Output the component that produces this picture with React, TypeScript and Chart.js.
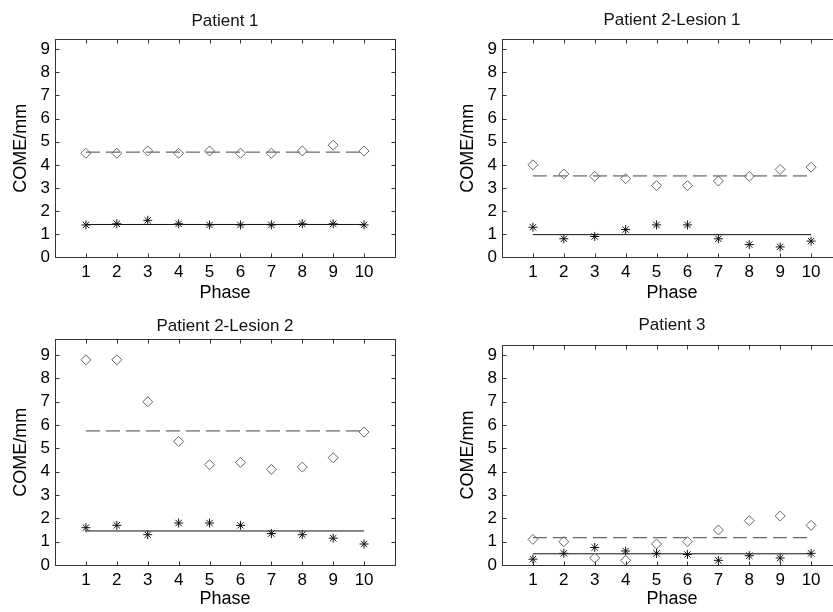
import React, { useEffect, useRef } from 'react';
import { Chart, registerables } from 'chart.js';

Chart.register(...registerables);

// ---- data ----
const phases = [1, 2, 3, 4, 5, 6, 7, 8, 9, 10];
const xTickValues = [1, 2, 3, 4, 5, 6, 7, 8, 9, 10];
const yTickValues = [0, 1, 2, 3, 4, 5, 6, 7, 8, 9];
const titles = ['Patient 1', 'Patient 2-Lesion 1', 'Patient 2-Lesion 2', 'Patient 3'];
const xAxisLabel = 'Phase';
const yAxisLabel = 'COME/mm';

const p1Diamond = [4.5, 4.5, 4.6, 4.5, 4.6, 4.5, 4.5, 4.6, 4.85, 4.6];
const p1Star = [1.4, 1.45, 1.6, 1.45, 1.4, 1.4, 1.4, 1.45, 1.45, 1.4];
const p1DiamondMean = 4.55;
const p1StarMean = 1.42;

const p2l1Diamond = [4.0, 3.6, 3.5, 3.4, 3.1, 3.1, 3.3, 3.5, 3.8, 3.9];
const p2l1Star = [1.3, 0.8, 0.9, 1.2, 1.4, 1.4, 0.8, 0.55, 0.45, 0.7];
const p2l1DiamondMean = 3.52;
const p2l1StarMean = 0.98;

const p2l2Diamond = [8.8, 8.8, 7.0, 5.3, 4.3, 4.4, 4.1, 4.2, 4.6, 5.7];
const p2l2Star = [1.6, 1.7, 1.3, 1.8, 1.8, 1.7, 1.35, 1.3, 1.15, 0.9];
const p2l2DiamondMean = 5.75;
const p2l2StarMean = 1.46;

const p3Diamond = [1.1, 1.0, 0.3, 0.2, 0.9, 1.0, 1.5, 1.9, 2.1, 1.7];
const p3Star = [0.25, 0.5, 0.75, 0.6, 0.5, 0.45, 0.2, 0.4, 0.3, 0.5];
const p3DiamondMean = 1.17;
const p3StarMean = 0.48;

const yMaxes = [9.43, 9.43, 9.68, 9.43];

const panels = [
  { title: titles[0], diamond: p1Diamond, star: p1Star, diamondMean: p1DiamondMean, starMean: p1StarMean, yMax: yMaxes[0] },
  { title: titles[1], diamond: p2l1Diamond, star: p2l1Star, diamondMean: p2l1DiamondMean, starMean: p2l1StarMean, yMax: yMaxes[1] },
  { title: titles[2], diamond: p2l2Diamond, star: p2l2Star, diamondMean: p2l2DiamondMean, starMean: p2l2StarMean, yMax: yMaxes[2] },
  { title: titles[3], diamond: p3Diamond, star: p3Star, diamondMean: p3DiamondMean, starMean: p3StarMean, yMax: yMaxes[3] },
];

// ---- layout (canvas coordinates) ----
const CW = 416;
const CH = 306;
const layouts = [
  { left: 0, top: 0, caTop: 39.3, caBottom: 257.3, titleCenter: 21, tickCenter: 272, xTitleCenter: 293 },
  { left: 447, top: 0, caTop: 39.3, caBottom: 257.3, titleCenter: 20, tickCenter: 272, xTitleCenter: 293 },
  { left: 0, top: 306, caTop: 33.3, caBottom: 259, titleCenter: 20, tickCenter: 274, xTitleCenter: 293.5 },
  { left: 447, top: 306, caTop: 39, caBottom: 259, titleCenter: 19, tickCenter: 274, xTitleCenter: 293.5 },
];

const FAMILY = "'Liberation Sans', Arial, Helvetica, sans-serif";
const FS = 17;
const LH = FS * 1.2;
const FS_AXIS = 18;
const LH_AXIS = FS_AXIS * 1.2;

const framePlugin = {
  id: 'matlabFrame',
  afterDraw(chart: any) {
    const { ctx, chartArea: a, scales } = chart;
    const l = Math.round(a.left) + 0.5;
    const r = Math.round(a.right) + 0.5;
    const t = Math.round(a.top) + 0.5;
    const b = Math.round(a.bottom) + 0.5;
    ctx.save();
    ctx.strokeStyle = '#333';
    ctx.lineWidth = 1;
    ctx.strokeRect(l, t, r - l, b - t);
    const tl = 4;
    ctx.beginPath();
    scales.x.ticks.forEach((tk: any) => {
      const px = Math.round(scales.x.getPixelForValue(tk.value)) + 0.5;
      ctx.moveTo(px, b); ctx.lineTo(px, b - tl);
      ctx.moveTo(px, t); ctx.lineTo(px, t + tl);
    });
    scales.y.ticks.forEach((tk: any) => {
      const py = Math.round(scales.y.getPixelForValue(tk.value)) + 0.5;
      ctx.moveTo(l, py); ctx.lineTo(l + tl, py);
      ctx.moveTo(r, py); ctx.lineTo(r - tl, py);
    });
    ctx.stroke();
    ctx.restore();
  },
};

function makeConfig(p: any, lay: any): any {
  const font = { family: FAMILY, size: FS, weight: 'normal' as const };
  const axisFont = { family: FAMILY, size: FS_AXIS, weight: 'normal' as const };
  return {
    type: 'scatter',
    data: {
      datasets: [
        {
          data: phases.map((x, i) => ({ x, y: p.diamond[i] })),
          pointStyle: 'rectRot',
          pointRadius: 5,
          pointBorderColor: '#666',
          pointBackgroundColor: 'rgba(0,0,0,0)',
          pointBorderWidth: 1,
          showLine: false,
        },
        {
          data: phases.map((x, i) => ({ x, y: p.star[i] })),
          pointStyle: 'star',
          pointRadius: 4.5,
          pointBorderColor: '#111',
          pointBackgroundColor: '#111',
          pointBorderWidth: 1,
          showLine: false,
        },
        {
          data: [{ x: phases[0], y: p.diamondMean }, { x: phases[phases.length - 1], y: p.diamondMean }],
          showLine: true,
          borderColor: '#444',
          borderWidth: 1,
          borderDash: [14, 6],
          pointRadius: 0,
        },
        {
          data: [{ x: phases[0], y: p.starMean }, { x: phases[phases.length - 1], y: p.starMean }],
          showLine: true,
          borderColor: '#111',
          borderWidth: 1,
          pointRadius: 0,
        },
      ],
    },
    options: {
      responsive: false,
      animation: false,
      layout: { padding: { left: 0, right: 21, top: 0, bottom: 0 } },
      plugins: {
        legend: { display: false },
        tooltip: { enabled: false },
        title: {
          display: true,
          text: p.title,
          fullSize: false,
          color: '#111',
          font,
          padding: { top: lay.titleCenter - LH / 2, bottom: lay.caTop - lay.titleCenter - LH / 2 },
        },
      },
      scales: {
        x: {
          type: 'linear',
          min: 0,
          max: 11,
          grid: { display: false, drawTicks: false },
          border: { display: false },
          afterBuildTicks: (s: any) => { s.ticks = xTickValues.map((v) => ({ value: v })); },
          afterFit: (s: any) => { s.height = CH - lay.caBottom; },
          ticks: { font, color: '#000', padding: lay.tickCenter - lay.caBottom - LH / 2, autoSkip: false, maxRotation: 0 },
          title: { display: true, text: xAxisLabel, font: axisFont, color: '#000', padding: { top: 0, bottom: CH - lay.xTitleCenter - LH_AXIS / 2 } },
        },
        y: {
          type: 'linear',
          min: 0,
          max: p.yMax,
          grid: { display: false, drawTicks: false },
          border: { display: false },
          afterBuildTicks: (s: any) => { s.ticks = yTickValues.map((v) => ({ value: v })); },
          afterFit: (s: any) => { s.width = 55; },
          ticks: { font, color: '#000', padding: 5, autoSkip: false },
          title: { display: true, text: yAxisLabel, font: axisFont, color: '#000', padding: { top: 21.5 - LH_AXIS / 2, bottom: 0 } },
        },
      },
    },
    plugins: [framePlugin],
  };
}

function Panel({ p, lay }: { p: any; lay: any }) {
  const ref = useRef<HTMLCanvasElement>(null);
  useEffect(() => {
    if (!ref.current) return;
    const chart = new Chart(ref.current, makeConfig(p, lay));
    return () => chart.destroy();
  }, []);
  return (
    <canvas
      ref={ref}
      width={CW}
      height={CH}
      style={{ position: 'absolute', left: lay.left, top: lay.top, width: CW, height: CH }}
    />
  );
}

export default function App() {
  return (
    <div style={{ position: 'absolute', left: 0, top: 0, width: 833, height: 612, overflow: 'hidden', background: '#fff' }}>
      {panels.map((p, i) => (
        <Panel key={i} p={p} lay={layouts[i]} />
      ))}
    </div>
  );
}
